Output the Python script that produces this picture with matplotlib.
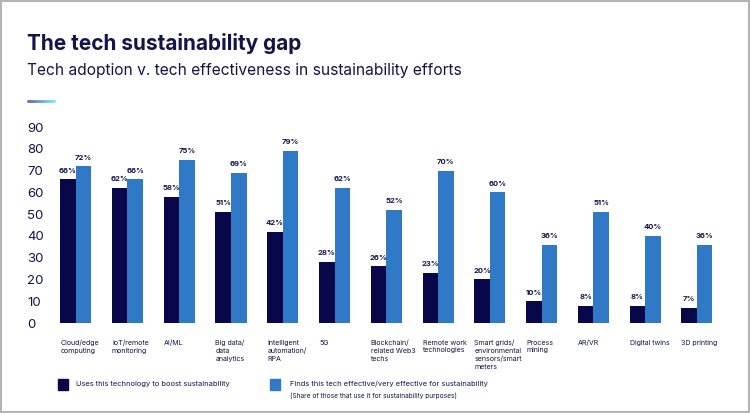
import numpy as np
import matplotlib.pyplot as plt
from matplotlib.patches import Rectangle
from matplotlib.collections import LineCollection

# Chart data
categories = ['Cloud/edge\ncomputing', 'IoT/remote\nmonitoring', 'AI/ML',
              'Big data/\ndata\nanalytics', 'Intelligent\nautomation/\nRPA', '5G',
              'Blockchain/\nrelated Web3\ntechs', 'Remote work\ntechnologies',
              'Smart grids/\nenvironmental\nsensors/smart\nmeters', 'Process\nmining',
              'AR/VR', 'Digital twins', '3D printing']
uses = [66, 62, 58, 51, 42, 28, 26, 23, 20, 10, 8, 8, 7]
effective = [72, 66, 75, 69, 79, 62, 52, 70, 60, 36, 51, 40, 36]
yticks = [0, 10, 20, 30, 40, 50, 60, 70, 80, 90]

navy = '#07074a'
blue = '#2f79c6'
text_col = '#14144a'

plt.rcParams['font.family'] = ['Inter', 'DejaVu Sans']

W, H = 750, 413
fig = plt.figure(figsize=(W / 100, H / 100), dpi=100)

def fx(px):
    return px / W

def fy(py):
    return 1 - py / H

# Plot area: 0 at y=323px, 90 at y=127px
ax = fig.add_axes([fx(55), fy(323), fx(728) - fx(55), fy(127) - fy(323)])
x = np.arange(len(categories))
bw = 0.3
ax.bar(x - bw / 2, uses, width=bw, color=navy)
ax.bar(x + bw / 2, effective, width=bw, color=blue)

for xi, u, e in zip(x, uses, effective):
    ax.annotate(f'{u}%', (xi - bw / 2, u), xytext=(0, 4), textcoords='offset points',
                ha='center', va='bottom', fontsize=5.5, fontweight='bold', color=text_col)
    ax.annotate(f'{e}%', (xi + bw / 2, e), xytext=(0, 4), textcoords='offset points',
                ha='center', va='bottom', fontsize=5.5, fontweight='bold', color=text_col)

for xi, lab in zip(x, categories):
    ax.annotate(lab, (xi - bw, 0), xytext=(0, -12), textcoords='offset points',
                ha='left', va='top', fontsize=5.1, color=text_col, linespacing=1.35)

ax.set_xlim(-0.4, len(categories) - 0.4)
ax.set_ylim(0, 90)
ax.set_yticks(yticks)
ax.set_xticks([])
ax.tick_params(axis='y', length=0, pad=20, labelsize=9.5, labelcolor=text_col)
for t in ax.get_yticklabels():
    t.set_horizontalalignment('left')
for s in ax.spines.values():
    s.set_visible(False)

# Titles
fig.text(fx(27), fy(43), 'The tech sustainability gap', fontsize=15, fontweight='bold',
         color=text_col, va='center', ha='left')
fig.text(fx(27), fy(70), 'Tech adoption v. tech effectiveness in sustainability efforts',
         fontsize=11.2, color=text_col, va='center', ha='left')

# Small gradient accent line
xs = np.linspace(fx(27), fx(55), 30)
segs = [[(xs[i], fy(101)), (xs[i + 1], fy(101))] for i in range(len(xs) - 1)]
grad = [tuple(np.array((0.25, 0.2, 0.6)) * (1 - t) + np.array((0.3, 0.9, 0.9)) * t)
        for t in np.linspace(0, 1, len(segs))]
fig.add_artist(LineCollection(segs, colors=grad, linewidths=2, transform=fig.transFigure))

# Legend
fig.add_artist(Rectangle((fx(58), fy(390)), fx(10), fy(379) - fy(390), color=navy,
                         transform=fig.transFigure))
fig.text(fx(76), fy(384), 'Uses this technology to boost sustainability', fontsize=5.4,
         color=text_col, va='center', ha='left')
fig.add_artist(Rectangle((fx(270), fy(390)), fx(10), fy(379) - fy(390), color=blue,
                         transform=fig.transFigure))
fig.text(fx(290), fy(384), 'Finds this tech effective/very effective for sustainability',
         fontsize=5.4, color=text_col, va='center', ha='left')
fig.text(fx(290), fy(396), '(Share of those that use it for sustainability purposes)',
         fontsize=4.7, color=text_col, va='center', ha='left')

# Grey frame round the picture
fig.add_artist(Rectangle((0.001, 0.002), 0.997, 0.995, fill=False, edgecolor='#b5b5b5',
                         linewidth=1.5, transform=fig.transFigure))

fig.savefig('out.png', dpi=100)
